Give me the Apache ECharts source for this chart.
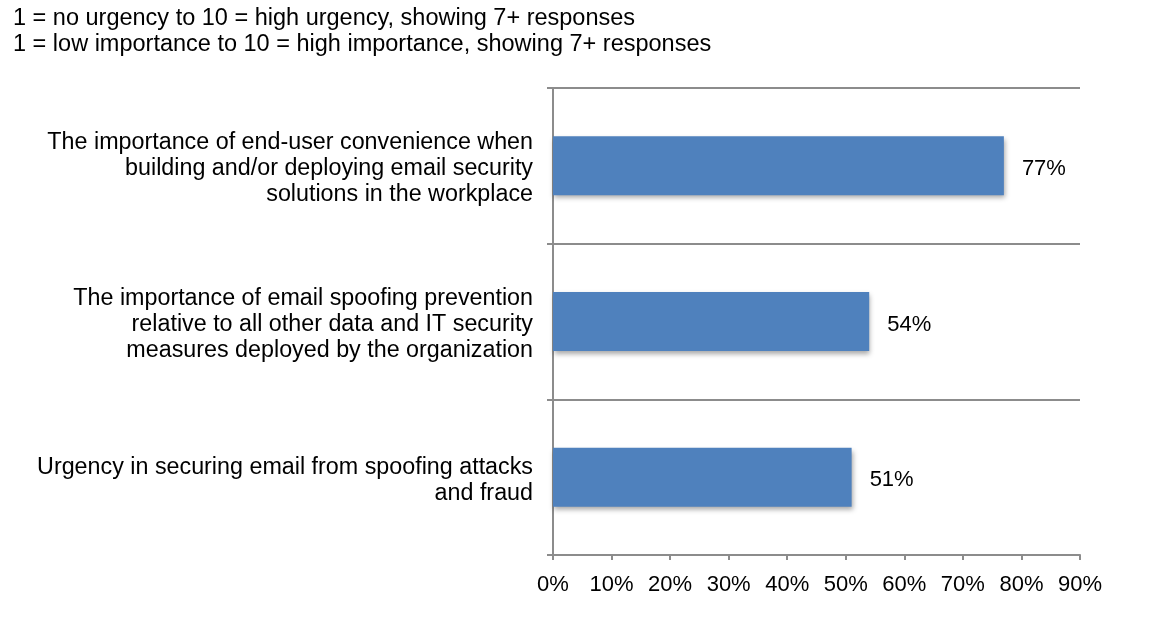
<!DOCTYPE html>
<html>
<head>
<meta charset="utf-8">
<script src="https://cdn.jsdelivr.net/npm/echarts@6/dist/echarts.min.js"></script>
<style>html,body{margin:0;padding:0;background:#fff;}#c{width:1162px;height:625px;}</style>
</head>
<body>
<div id="c"></div>
<script>
const subtitleLines = [
  '1 = no urgency to 10 = high urgency, showing 7+ responses',
  '1 = low importance to 10 = high importance, showing 7+ responses'
];
const categories = [
  'The importance of end-user convenience when\nbuilding and/or deploying email security\nsolutions in the workplace',
  'The importance of email spoofing prevention\nrelative to all other data and IT security\nmeasures deployed by the organization',
  'Urgency in securing email from spoofing attacks\nand fraud'
];
const values = [77, 54, 51];
const axisMin = 0, axisMax = 90, axisStep = 10;

const chart = echarts.init(document.getElementById('c'));
const font = 'Liberation Sans, Arial, sans-serif';
chart.setOption({
  animation: false,
  textStyle: { fontFamily: font },
  title: {
    text: subtitleLines.join('\n'),
    left: 8, top: 0,
    textStyle: { fontSize: 23.5, fontWeight: 'normal', color: '#000', lineHeight: 26.5, fontFamily: font }
  },
  grid: { left: 553, right: 82, top: 88, bottom: 70 },
  xAxis: {
    type: 'value', min: axisMin, max: axisMax, interval: axisStep,
    axisLine: { show: true, lineStyle: { color: '#8c8c8c', width: 2 } },
    axisTick: { show: true, length: 5, lineStyle: { color: '#8c8c8c', width: 2 } },
    splitLine: { show: false },
    axisLabel: { formatter: '{value}%', fontSize: 22, color: '#000', margin: 19, fontFamily: font }
  },
  yAxis: {
    type: 'category', data: categories, inverse: true,
    axisLine: { show: true, lineStyle: { color: '#8c8c8c', width: 2 } },
    axisTick: { show: true, length: 6, lineStyle: { color: '#8c8c8c', width: 2 } },
    splitLine: { show: true, lineStyle: { color: '#8c8c8c', width: 2 } },
    axisLabel: {
      fontSize: 23.3, color: '#000', lineHeight: 26, margin: 20, align: 'right', fontFamily: font,
      formatter: function (v) {
        return '{s| }\n' + v.split('\n').map(function (l) { return '{t|' + l + '}'; }).join('\n');
      },
      rich: {
        s: { fontSize: 1, lineHeight: 6 },
        t: { fontSize: 23.3, lineHeight: 26, color: '#000', fontFamily: font, align: 'right' }
      }
    }
  },
  series: [{
    type: 'bar', data: values, barWidth: 59,
    itemStyle: { color: '#4F81BD', shadowColor: 'rgba(0,0,0,0.35)', shadowBlur: 5, shadowOffsetX: 1, shadowOffsetY: 3 },
    label: { show: true, position: 'right', distance: 18, offset: [0, 3], formatter: '{c}%', fontSize: 22, color: '#000', fontFamily: font }
  }]
});
</script>
</body>
</html>
